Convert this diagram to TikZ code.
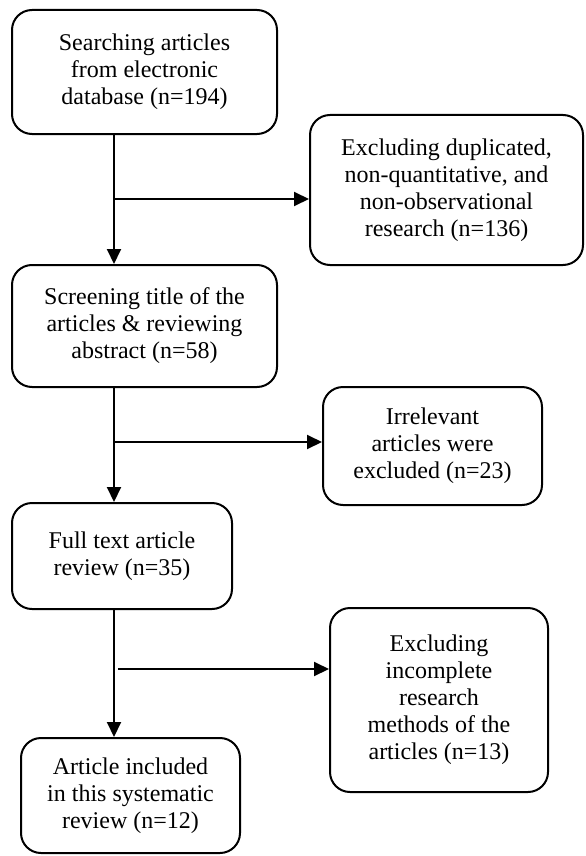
\documentclass[tikz,border=0pt]{standalone}
\usepackage{fontspec}
\setmainfont{Liberation Serif}
\usetikzlibrary{positioning}
\usetikzlibrary{arrows.meta}
\usetikzlibrary{calc}

\tikzset{
	stage/.style = {draw, rounded corners = 10pt, line width = 1pt, align = center, inner sep = 0pt,
		font = \fontsize{12}{13.5}\selectfont},
	flow/.style = {-{Triangle[length = 7.5pt, width = 7pt]}, line width = 1pt}
}

\begin{document}
\begin{tikzpicture}[x = 0.5pt, y = -0.5pt]
		\useasboundingbox (0, 0) rectangle (585, 856);

		\node [stage, minimum width = 132.5pt, minimum height = 62pt] (search) at (144.5, 72) {Searching articles\\from electronic\\database (n=194)};
		\node [stage, minimum width = 136.5pt, minimum height = 75pt] (dup) at (446.5, 190) {Excluding duplicated,\\non-quantitative, and\\non-observational\\research (n=136)};
		\node [stage, minimum width = 132.5pt, minimum height = 61pt] (screen) at (144.5, 326) {Screening title of the\\articles \& reviewing\\abstract (n=58)};
		\node [stage, minimum width = 109.5pt, minimum height = 59pt] (irrel) at (432.5, 446) {Irrelevant\\articles were\\excluded (n=23)};
		\node [stage, minimum width = 110pt, minimum height = 53pt] (full) at (122, 556) {Full text article\\review (n=35)};
		\node [stage, minimum width = 109pt, minimum height = 92pt] (incomp) at (439, 700) {Excluding\\incomplete\\research\\methods of the\\articles (n=13)};
		\node [stage, minimum width = 109.5pt, minimum height = 57.5pt] (incl) at (130.5, 795.5) {Article included\\in this systematic\\review (n=12)};

		% junctions on the main line
		\coordinate (j1) at (114, 199);
		\coordinate (j2) at (114, 442);
		\coordinate (j3) at (118, 669);

		\draw [flow] (search.south -| j1) -- (screen.north -| j1);
		\draw [flow] (screen.south -| j2) -- (full.north -| j2);
		\draw [flow] (full.south -| j2) -- (incl.north -| j2);

		\draw [flow] (j1) -- (j1 -| dup.west);
		\draw [flow] (j2) -- (j2 -| irrel.west);
		\draw [flow] (j3) -- (j3 -| incomp.west);
	\end{tikzpicture}
\end{document}
